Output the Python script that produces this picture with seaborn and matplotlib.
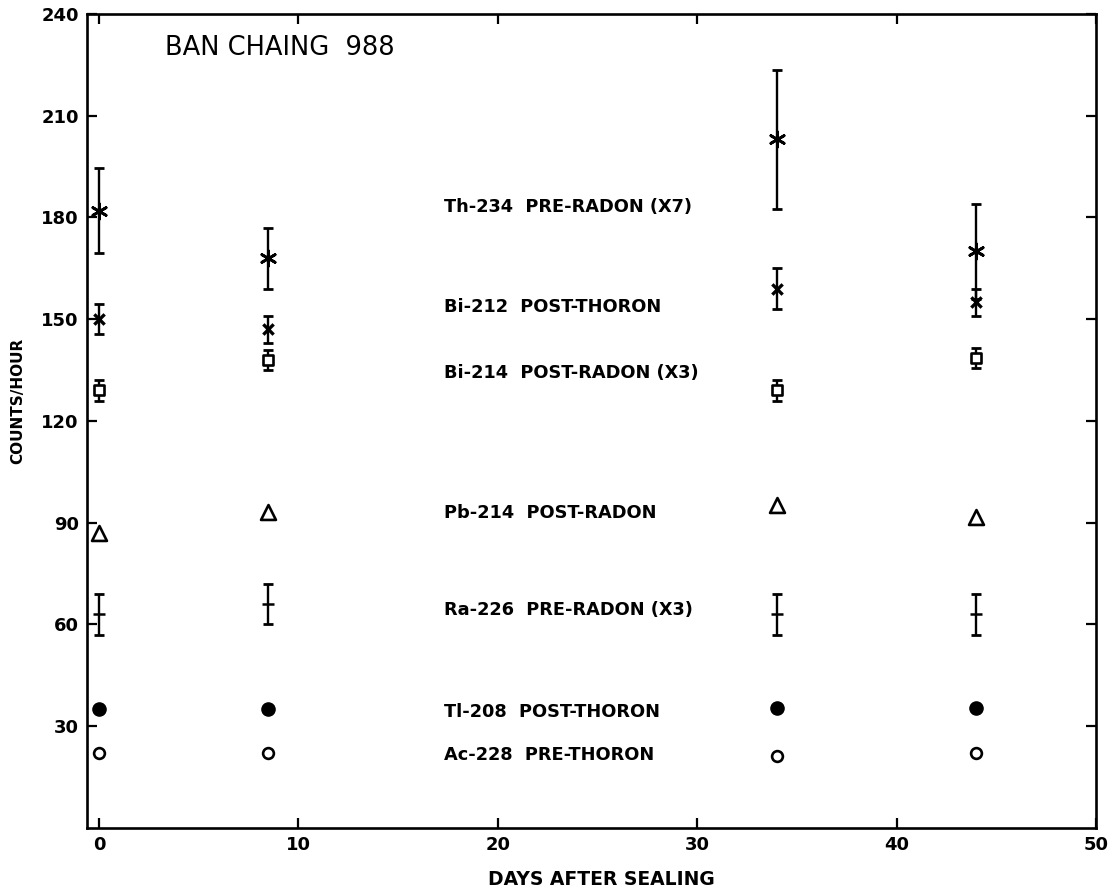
import numpy as np
import pandas as pd
import matplotlib
matplotlib.use("Agg")
import matplotlib.pyplot as plt
import seaborn as sns

# days after sealing for the four measurements
days = [0, 8.5, 34, 44]

# counts/hour
th234 = [182, 168, 203, 170]
th234_err = [12.5, 9, 20.5, 14]
bi212 = [150, 147, 159, 155]
bi212_err = [4.5, 4, 6, 4]
bi214 = [129, 138, 129, 138.5]
bi214_err = [3, 3, 3, 3]
pb214 = [87, 93.3, 95.2, 91.7]
ra226 = [63, 66, 63, 63]
ra226_err = [6, 6, 6, 6]
tl208 = [35.2, 35.2, 35.5, 35.5]
ac228 = [22.2, 22, 21.2, 22.2]

labels = [
    "Th-234  PRE-RADON (X7)",
    "Bi-212  POST-THORON",
    "Bi-214  POST-RADON (X3)",
    "Pb-214  POST-RADON",
    "Ra-226  PRE-RADON (X3)",
    "Tl-208  POST-THORON",
    "Ac-228  PRE-THORON",
]
label_y = [183, 153.6, 134.1, 92.9, 64.3, 34.2, 21.5]

xticks = [0, 10, 20, 30, 40, 50]
yticks = [30, 60, 90, 120, 150, 180, 210, 240]

sns.set_style("ticks")
plt.rcParams["font.family"] = ["DejaVu Sans"]
plt.rcParams.update({
    "text.color": "black",
    "axes.labelcolor": "black",
    "axes.edgecolor": "black",
    "xtick.color": "black",
    "ytick.color": "black",
})

fig = plt.figure(figsize=(11.2, 8.9), dpi=100)
ax = fig.add_axes([0.0777, 0.0697, 0.9009, 0.9146])

# series: values, errors, marker, size, filled, linewidth
series = [
    (th234, th234_err, (6, 2, 0), 120, True, 2.0),
    (bi212, bi212_err, "x", 55, True, 2.4),
    (bi214, bi214_err, "s", 45, False, 1.9),
    (pb214, None, "^", 115, False, 1.9),
    (ra226, ra226_err, "_", 70, True, 1.8),
    (tl208, None, "o", 90, True, 1.0),
    (ac228, None, "o", 60, False, 1.9),
]

for vals, err, mk, size, filled, lw in series:
    df = pd.DataFrame({"day": days, "counts": vals})
    if err is not None:
        ax.errorbar(df["day"], df["counts"], yerr=err, fmt="none",
                    ecolor="black", elinewidth=1.7, capsize=3.6,
                    capthick=2.0, zorder=2)
    if filled:
        sns.scatterplot(data=df, x="day", y="counts", marker=mk, s=size,
                        color="black", edgecolor="black", linewidth=lw,
                        ax=ax, zorder=3, legend=False)
    else:
        sns.scatterplot(data=df, x="day", y="counts", marker=mk, s=size,
                        color="white", edgecolor="black", linewidth=lw,
                        ax=ax, zorder=3, legend=False)

# series labels in the middle of the plot
for txt, yy in zip(labels, label_y):
    ax.text(17.3, yy, txt, fontsize=12.8, fontweight="bold",
            ha="left", va="center")

ax.text(3.3, 230, "BAN CHAING  988", fontsize=18.5, ha="left", va="center")

ax.set_xlim(-0.6, 50)
ax.set_ylim(0, 240)
ax.set_xticks(xticks)
ax.set_yticks(yticks)
ax.tick_params(direction="in", top=True, right=True, length=7, width=1.6,
               labelsize=13, pad=6)
for lab in ax.get_xticklabels() + ax.get_yticklabels():
    lab.set_fontweight("bold")

for sp in ax.spines.values():
    sp.set_linewidth(1.9)
    sp.set_visible(True)

ax.set_xlabel("DAYS AFTER SEALING", fontsize=13.5, fontweight="bold")
ax.set_ylabel("COUNTS/HOUR", fontsize=11, fontweight="bold")
ax.xaxis.set_label_coords(0.51, -0.052)
ax.yaxis.set_label_coords(-0.061, 0.525)

plt.savefig("out.png", dpi=100)
